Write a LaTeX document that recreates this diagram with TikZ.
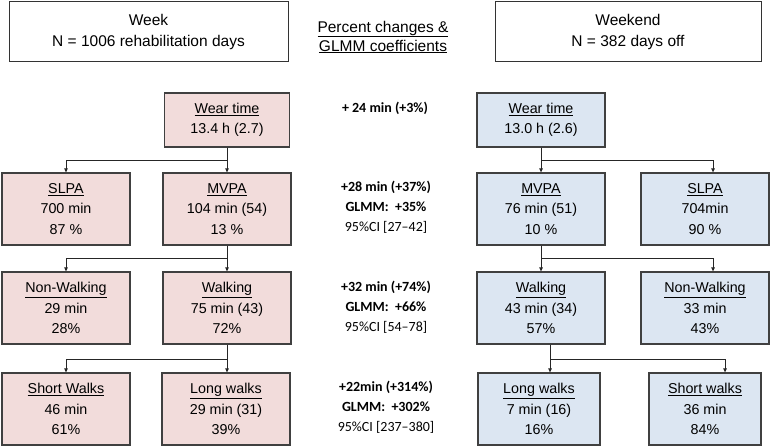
\documentclass[tikz,border=0pt]{standalone}
\usepackage{fontspec}
\setmainfont{Liberation Sans}
\newfontfamily\calibrifont[Ligatures=TeX]{Carlito}
\usetikzlibrary{arrows.meta}

\begin{document}
\begin{tikzpicture}[
    x=1pt, y=-1pt,
    head_box/.style={rectangle, draw=black!80, line width=1pt, minimum width=279pt, minimum height=60pt, align=center, font=\fontsize{15.5}{21}\selectfont},
    box/.style={rectangle, draw=black!75, line width=1.2pt, minimum width=128pt, minimum height=72pt, inner sep=0pt, align=center, font=\fontsize{14.3}{20.5}\selectfont},
    wk_box/.style={box, fill=cweek},
    we_box/.style={box, fill=cwend},
    stat_node/.style={align=center, text=black, font=\calibrifont\fontsize{14}{20}\selectfont},
    conn/.style={-{Triangle[length=4pt, width=3.5pt]}, line width=1pt, black!85}
]

  % --- Color Definitions ---
  \definecolor{cweek}{RGB}{242, 220, 219} % Soft Pink
  \definecolor{cwend}{RGB}{220, 230, 242} % Soft Blue

  \useasboundingbox (0,0) rectangle (778,446);

  % --- Headers ---
  \node[head_box] (wk_head) at (148.5, 32) {Week\\N = 1006 rehabilitation days};
  \node[head_box, minimum width=266pt] (we_head) at (628, 32) {Weekend\\N = 382 days off};
  \node[align=center, font=\fontsize{15.5}{19}\selectfont] (mid_head) at (383, 37)
    {\underline{Percent changes \&}\\\underline{GLMM coefficients}};

  % --- Week column ---
  \node[wk_box, minimum width=125pt, minimum height=54pt] (wk_wear) at (227, 120) {\underline{Wear time}\\13.4 h (2.7)};
  \node[wk_box] (wk_slpa)    at (66, 209)  {\underline{SLPA}\\700 min\\87 \%};
  \node[wk_box] (wk_mvpa)    at (227, 209) {\underline{MVPA}\\104 min (54)\\13 \%};
  \node[wk_box] (wk_nonwalk) at (66, 308)  {\underline{Non-Walking}\\29 min\\28\%};
  \node[wk_box] (wk_walk)    at (227, 308) {\underline{Walking}\\75 min (43)\\72\%};
  \node[wk_box] (wk_short)   at (66, 409)  {\underline{Short Walks}\\46 min\\61\%};
  \node[wk_box] (wk_long)    at (226, 409) {\underline{Long walks}\\29 min (31)\\39\%};

  % --- Weekend column ---
  \node[we_box, minimum width=128pt, minimum height=54pt] (we_wear) at (541, 120) {\underline{Wear time}\\13.0 h (2.6)};
  \node[we_box] (we_mvpa)    at (541, 209) {\underline{MVPA}\\76 min (51)\\10 \%};
  \node[we_box] (we_slpa)    at (705, 209) {\underline{SLPA}\\704min\\90 \%};
  \node[we_box] (we_walk)    at (541, 308) {\underline{Walking}\\43 min (34)\\57\%};
  \node[we_box] (we_nonwalk) at (705, 308) {\underline{Non-Walking}\\33 min\\43\%};
  \node[we_box, minimum width=122pt] (we_long)  at (539, 409) {\underline{Long walks}\\7 min (16)\\16\%};
  \node[we_box, minimum width=112pt] (we_short) at (705, 409) {\underline{Short walks}\\36 min\\84\%};

  % --- Changes & GLMM ---
  \node[stat_node] (st_wear) at (385, 108) {\textbf{+ 24 min (+3\%)}};
  \node[stat_node] (st_mvpa) at (386, 207) {\textbf{+28 min (+37\%)}\\\textbf{GLMM:\ \ +35\%}\\95\%CI [27\textendash42]};
  \node[stat_node] (st_walk) at (386, 307) {\textbf{+32 min (+74\%)}\\\textbf{GLMM:\ \ +66\%}\\95\%CI [54\textendash78]};
  \node[stat_node] (st_long) at (386, 407) {\textbf{+22min (+314\%)}\\\textbf{GLMM:\ \ +302\%}\\95\%CI [237\textendash380]};

  % --- Connectors: Week ---
  \draw[conn] (wk_wear.south) -- (wk_mvpa.north);
  \draw[conn] (wk_wear.south) -- ++(0,13) -| (wk_slpa.north);
  \draw[conn] (wk_mvpa.south) -- (wk_walk.north);
  \draw[conn] (wk_mvpa.south) -- ++(0,13) -| (wk_nonwalk.north);
  \draw[conn] (wk_walk.south) -- (wk_walk.south |- wk_long.north);
  \draw[conn] (wk_walk.south) -- ++(0,15) -| (wk_short.north);

  % --- Connectors: Weekend ---
  \draw[conn] (we_wear.south) -- (we_mvpa.north);
  \draw[conn] (we_wear.south) -- ++(0,13) -| ([xshift=8pt]we_slpa.north);
  \draw[conn] (we_mvpa.south) -- (we_walk.north);
  \draw[conn] (we_mvpa.south) -- ++(0,13) -| ([xshift=8pt]we_nonwalk.north);
  \draw[conn] ([xshift=9pt]we_walk.south) -- ([xshift=9pt]we_walk.south |- we_long.north);
  \draw[conn] ([xshift=9pt]we_walk.south) -- ++(0,15) -| ([xshift=20pt]we_short.north);

\end{tikzpicture}
\end{document}
